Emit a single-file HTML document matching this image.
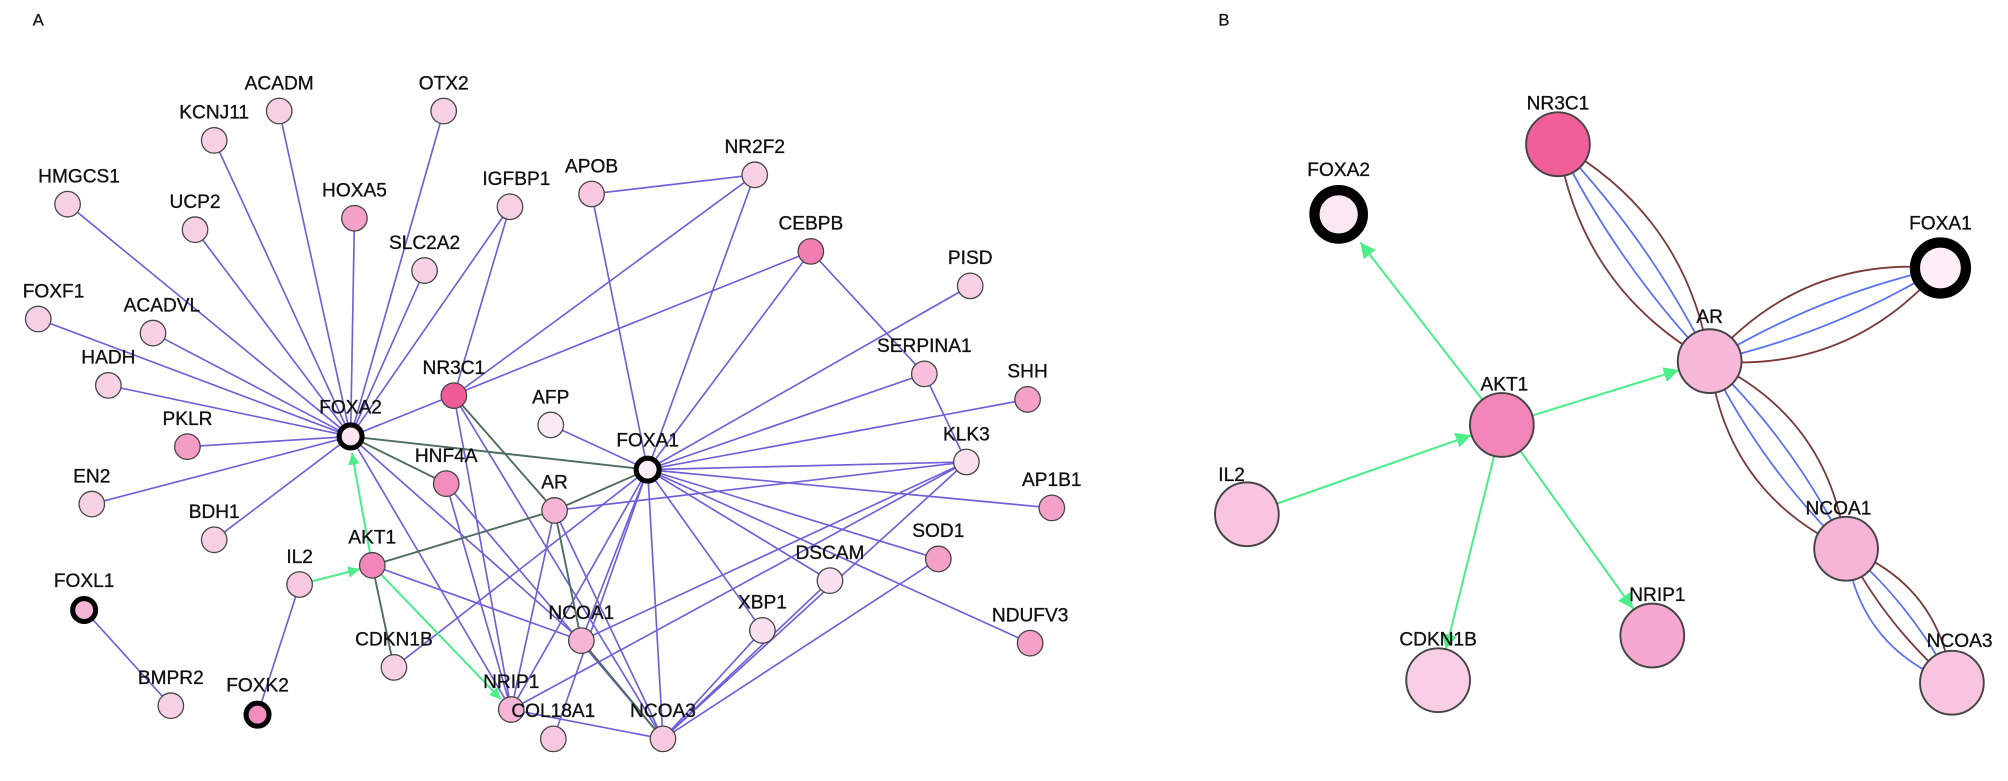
<!DOCTYPE html>
<html><head><meta charset="utf-8"><style>
html,body{margin:0;padding:0;background:#fff;}
svg{display:block;}
text{font-family:"Liberation Sans",Arial,sans-serif;font-size:15px;fill:#111;stroke:#111;stroke-width:0.25;text-anchor:middle;}
.p line{stroke:#7060d8;stroke-width:1.3;}
.g line{stroke:#4f6d5f;stroke-width:1.5;}
.a line{stroke:#4cee8a;stroke-width:1.6;}
.n circle{stroke:#444;stroke-width:1;}
.bb path{fill:none;stroke-width:1.4;}
</style></head><body>
<svg width="2008" height="781" viewBox="0 0 1575 612" preserveAspectRatio="none" xmlns="http://www.w3.org/2000/svg">
<defs>
<marker id="ar" viewBox="0 0 10 10" refX="10" refY="5" markerWidth="9" markerHeight="9" markerUnits="userSpaceOnUse" orient="auto"><path d="M0,0 L10,5 L0,10 z" fill="#4cee8a"/></marker>
<marker id="ar2" viewBox="0 0 10 10" refX="10" refY="5" markerWidth="12" markerHeight="12" markerUnits="userSpaceOnUse" orient="auto"><path d="M0,0 L10,5 L0,10 z" fill="#4cee8a"/></marker>
</defs>
<text x="30" y="20" style="font-size:13px">A</text>
<text x="960" y="20" style="font-size:13px">B</text>
<g class="p">
<line x1="275" y1="342" x2="168" y2="110"/><line x1="275" y1="342" x2="219" y2="87"/><line x1="275" y1="342" x2="278" y2="171"/><line x1="275" y1="342" x2="348" y2="87"/>
<line x1="275" y1="342" x2="53" y2="160"/><line x1="275" y1="342" x2="153" y2="180"/><line x1="275" y1="342" x2="400" y2="162"/><line x1="275" y1="342" x2="333" y2="212"/>
<line x1="275" y1="342" x2="30" y2="250"/><line x1="275" y1="342" x2="120" y2="261"/><line x1="275" y1="342" x2="85" y2="302"/><line x1="275" y1="342" x2="147" y2="350"/>
<line x1="275" y1="342" x2="72" y2="395"/><line x1="275" y1="342" x2="168" y2="423"/><line x1="275" y1="342" x2="636" y2="197"/><line x1="275" y1="342" x2="456" y2="502"/>
<line x1="275" y1="342" x2="401" y2="556"/><line x1="356" y1="310" x2="400" y2="162"/><line x1="356" y1="310" x2="592" y2="137"/>
<line x1="464" y1="152" x2="592" y2="137"/><line x1="508" y1="368" x2="464" y2="152"/><line x1="508" y1="368" x2="592" y2="137"/><line x1="508" y1="368" x2="636" y2="197"/>
<line x1="508" y1="368" x2="432" y2="333"/><line x1="508" y1="368" x2="761" y2="224"/><line x1="508" y1="368" x2="725" y2="293"/><line x1="508" y1="368" x2="806" y2="313"/>
<line x1="508" y1="368" x2="758" y2="362"/><line x1="508" y1="368" x2="825" y2="398"/><line x1="508" y1="368" x2="736" y2="438"/><line x1="508" y1="368" x2="808" y2="504"/>
<line x1="508" y1="368" x2="651" y2="455"/><line x1="508" y1="368" x2="598" y2="494"/><line x1="508" y1="368" x2="520" y2="579"/><line x1="508" y1="368" x2="434" y2="579"/>
<line x1="508" y1="368" x2="401" y2="556"/><line x1="508" y1="368" x2="456" y2="502"/><line x1="508" y1="368" x2="309" y2="523"/><line x1="435" y1="400" x2="758" y2="362"/>
<line x1="636" y1="197" x2="725" y2="293"/><line x1="725" y1="293" x2="758" y2="362"/><line x1="758" y1="362" x2="401" y2="556"/><line x1="758" y1="362" x2="520" y2="579"/>
<line x1="758" y1="362" x2="456" y2="502"/><line x1="651" y1="455" x2="520" y2="579"/><line x1="598" y1="494" x2="520" y2="579"/><line x1="736" y1="438" x2="520" y2="579"/>
<line x1="401" y1="556" x2="520" y2="579"/><line x1="356" y1="310" x2="401" y2="556"/><line x1="356" y1="310" x2="520" y2="579"/><line x1="350" y1="379" x2="401" y2="556"/>
<line x1="350" y1="379" x2="520" y2="579"/><line x1="435" y1="400" x2="401" y2="556"/><line x1="435" y1="400" x2="520" y2="579"/><line x1="292" y1="443" x2="456" y2="502"/>
<line x1="235" y1="458" x2="202" y2="560"/><line x1="66" y1="478" x2="134" y2="553"/>
</g>
<g class="g">
<line x1="275" y1="342" x2="508" y2="368"/><line x1="275" y1="342" x2="350" y2="379"/><line x1="356" y1="310" x2="435" y2="400"/><line x1="435" y1="400" x2="508" y2="368"/>
<line x1="292" y1="443" x2="435" y2="400"/><line x1="292" y1="443" x2="309" y2="523"/><line x1="435" y1="400" x2="456" y2="502"/><line x1="456" y1="502" x2="520" y2="579"/>
</g>
<g class="a">
<line x1="235" y1="458" x2="282" y2="446" marker-end="url(#ar)"/><line x1="292" y1="443" x2="276" y2="355" marker-end="url(#ar)"/><line x1="292" y1="443" x2="393" y2="548" marker-end="url(#ar)"/>
</g>
<g class="n">
<circle cx="168" cy="110" r="10" fill="#f8d0e4"/><circle cx="219" cy="87" r="10" fill="#f8d0e4"/><circle cx="348" cy="87" r="10" fill="#f8d0e4"/><circle cx="278" cy="171" r="10" fill="#f4a0c8"/>
<circle cx="53" cy="160" r="10" fill="#f8d0e4"/><circle cx="153" cy="180" r="10" fill="#f8d0e4"/><circle cx="400" cy="162" r="10" fill="#f8d0e4"/><circle cx="464" cy="152" r="10" fill="#f8c8e0"/>
<circle cx="592" cy="137" r="10" fill="#f8d0e4"/><circle cx="333" cy="212" r="10" fill="#f8d0e4"/><circle cx="636" cy="197" r="10" fill="#f27eb2"/><circle cx="761" cy="224" r="10" fill="#f8d0e4"/>
<circle cx="30" cy="250" r="10" fill="#f8d0e4"/><circle cx="120" cy="261" r="10" fill="#f8d0e4"/><circle cx="85" cy="302" r="10" fill="#f8d0e4"/><circle cx="725" cy="293" r="10" fill="#f8c0dc"/>
<circle cx="806" cy="313" r="10" fill="#f4a0c8"/><circle cx="356" cy="310" r="10" fill="#ef5b97"/><circle cx="147" cy="350" r="10" fill="#f39cc6"/><circle cx="432" cy="333" r="10" fill="#fbeaf3"/>
<circle cx="350" cy="379" r="10" fill="#f28ebe"/><circle cx="758" cy="362" r="10" fill="#fae0ee"/><circle cx="72" cy="395" r="10" fill="#f8d0e4"/><circle cx="435" cy="400" r="10" fill="#f6b4d6"/>
<circle cx="825" cy="398" r="10" fill="#f4a0c8"/><circle cx="168" cy="423" r="10" fill="#f8d0e4"/><circle cx="235" cy="458" r="10" fill="#f8c8e0"/><circle cx="292" cy="443" r="10" fill="#f286b8"/>
<circle cx="736" cy="438" r="10" fill="#f4a0c8"/><circle cx="651" cy="455" r="10" fill="#fae0ee"/><circle cx="598" cy="494" r="10" fill="#fae0ee"/><circle cx="456" cy="502" r="10" fill="#f6b4d6"/>
<circle cx="808" cy="504" r="10" fill="#f4a0c8"/><circle cx="309" cy="523" r="10" fill="#f8d0e4"/><circle cx="401" cy="556" r="10" fill="#f6b4d6"/><circle cx="134" cy="553" r="10" fill="#f8d0e4"/>
<circle cx="434" cy="579" r="10" fill="#f8c8e0"/><circle cx="520" cy="579" r="10" fill="#f8c8e0"/>
<circle cx="275" cy="342" r="9" fill="#fde6f2" style="stroke:#000;stroke-width:4"/><circle cx="508" cy="368" r="9" fill="#fdeef6" style="stroke:#000;stroke-width:4"/>
<circle cx="66" cy="478" r="9" fill="#f6b4d6" style="stroke:#000;stroke-width:4"/><circle cx="202" cy="560" r="9" fill="#f28ebe" style="stroke:#000;stroke-width:4"/>
</g>
<g>
<text x="168" y="93">KCNJ11</text><text x="219" y="70">ACADM</text><text x="348" y="70">OTX2</text><text x="278" y="154">HOXA5</text>
<text x="62" y="143">HMGCS1</text><text x="153" y="163">UCP2</text><text x="405" y="145">IGFBP1</text><text x="464" y="135">APOB</text>
<text x="592" y="120">NR2F2</text><text x="333" y="195">SLC2A2</text><text x="636" y="180">CEBPB</text><text x="761" y="207">PISD</text>
<text x="42" y="233">FOXF1</text><text x="127" y="244">ACADVL</text><text x="85" y="285">HADH</text><text x="725" y="276">SERPINA1</text>
<text x="806" y="296">SHH</text><text x="356" y="293">NR3C1</text><text x="147" y="333">PKLR</text><text x="432" y="316">AFP</text>
<text x="275" y="324">FOXA2</text><text x="508" y="350">FOXA1</text><text x="350" y="362">HNF4A</text><text x="758" y="345">KLK3</text>
<text x="72" y="378">EN2</text><text x="435" y="383">AR</text><text x="825" y="381">AP1B1</text><text x="168" y="406">BDH1</text>
<text x="235" y="441">IL2</text><text x="292" y="426">AKT1</text><text x="736" y="421">SOD1</text><text x="651" y="438">DSCAM</text>
<text x="598" y="477">XBP1</text><text x="456" y="485">NCOA1</text><text x="808" y="487">NDUFV3</text><text x="309" y="506">CDKN1B</text>
<text x="401" y="539">NRIP1</text><text x="134" y="536">BMPR2</text><text x="434" y="562">COL18A1</text><text x="520" y="562">NCOA3</text>
<text x="66" y="460">FOXL1</text><text x="202" y="542">FOXK2</text>
</g>
<!-- Panel B -->
<g class="bb">
<path d="M1341,283 Q1322.5,169.3 1222,113" stroke="#7a3838"/><path d="M1341,283 Q1240.5,226.7 1222,113" stroke="#7a3838"/>
<path d="M1341,283 Q1294.6,188.8 1222,113" stroke="#5a72f0"/><path d="M1341,283 Q1268.4,207.2 1222,113" stroke="#5a72f0"/>
<path d="M1341,283 Q1450.2,292.9 1522,210" stroke="#7a3838"/><path d="M1341,283 Q1412.8,200.1 1522,210" stroke="#7a3838"/>
<path d="M1341,283 Q1437.5,261.4 1522,210" stroke="#5a72f0"/><path d="M1341,283 Q1425.5,231.6 1522,210" stroke="#5a72f0"/>
<path d="M1341,283 Q1434.9,327.1 1448,430" stroke="#7a3838"/><path d="M1341,283 Q1354.1,385.9 1448,430" stroke="#7a3838"/>
<path d="M1341,283 Q1407.4,347.1 1448,430" stroke="#5a72f0"/><path d="M1341,283 Q1381.6,365.9 1448,430" stroke="#5a72f0"/>
<path d="M1448,430 Q1520.9,457.7 1531,535" stroke="#7a3838"/><path d="M1448,430 Q1458.1,507.3 1531,535" stroke="#5a72f0"/>
<path d="M1448,430 Q1499.7,474.5 1531,535" stroke="#5a72f0"/><path d="M1448,430 Q1479.3,490.5 1531,535" stroke="#7a3838"/>
</g>
<g class="a">
<line x1="1178" y1="333" x2="1067" y2="190" marker-end="url(#ar2)"/><line x1="1178" y1="333" x2="1317" y2="290" marker-end="url(#ar2)"/>
<line x1="978" y1="403" x2="1154" y2="341" marker-end="url(#ar2)"/><line x1="1178" y1="333" x2="1281" y2="477" marker-end="url(#ar2)"/>
<line x1="1178" y1="333" x2="1134" y2="509" marker-end="url(#ar2)"/>
</g>
<g class="n">
<circle cx="1222" cy="113" r="25" fill="#f05f98" style="stroke-width:1.5"/><circle cx="1341" cy="283" r="25" fill="#f8b8da" style="stroke-width:1.5"/>
<circle cx="1178" cy="333" r="25" fill="#f286b8" style="stroke-width:1.5"/><circle cx="978" cy="403" r="25" fill="#f8c4e0" style="stroke-width:1.5"/>
<circle cx="1296" cy="498" r="25" fill="#f6a8d0" style="stroke-width:1.5"/><circle cx="1128" cy="533" r="25" fill="#f8cfe4" style="stroke-width:1.5"/>
<circle cx="1448" cy="430" r="25" fill="#f6b4d6" style="stroke-width:1.5"/><circle cx="1531" cy="535" r="25" fill="#f8c4e0" style="stroke-width:1.5"/>
<circle cx="1050" cy="168" r="19" fill="#fce8f3" style="stroke:#000;stroke-width:8"/><circle cx="1522" cy="210" r="20" fill="#fdeef7" style="stroke:#000;stroke-width:8"/>
</g>
<g>
<text x="1222" y="86">NR3C1</text><text x="1050" y="138">FOXA2</text><text x="1522" y="180">FOXA1</text><text x="1341" y="253">AR</text>
<text x="1180" y="306">AKT1</text><text x="966" y="377">IL2</text><text x="1300" y="471">NRIP1</text><text x="1128" y="506">CDKN1B</text>
<text x="1442" y="403">NCOA1</text><text x="1537" y="507">NCOA3</text>
</g>
</svg>
</body></html>
